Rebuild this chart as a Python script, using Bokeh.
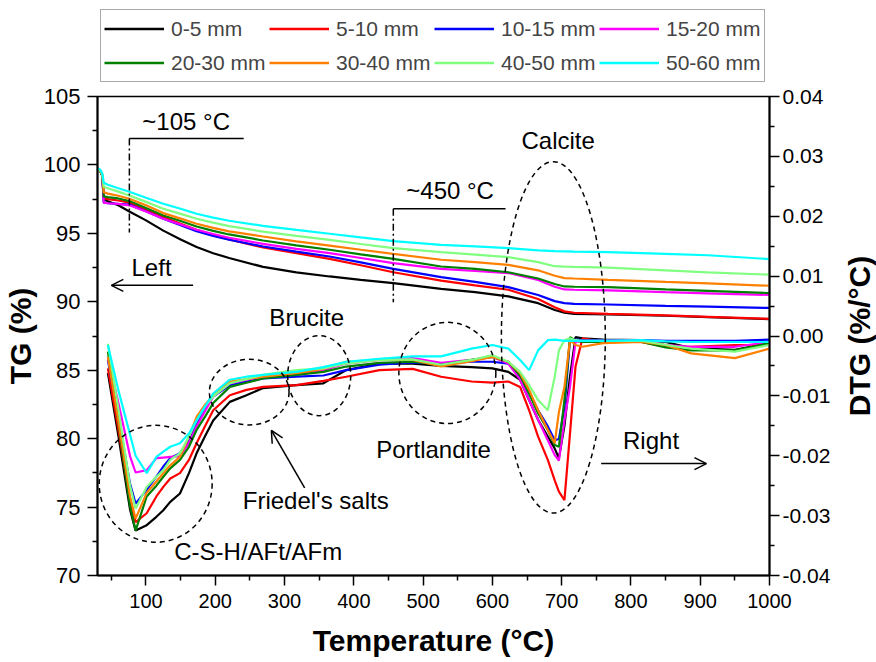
import math
from bokeh.plotting import figure
from bokeh.layouts import column, row
from bokeh.models import (Range1d, LinearAxis, FixedTicker, Legend, LegendItem, Arrow,
                          OpenHead, Label, PrintfTickFormatter)
from bokeh.core.properties import value
from bokeh.embed import file_html
from bokeh.resources import INLINE

FONT = "Liberation Sans"

# ---------------- data ----------------
labels = ["0-5 mm", "5-10 mm", "10-15 mm", "15-20 mm",
          "20-30 mm", "30-40 mm", "40-50 mm", "50-60 mm"]
colors = ["#000000", "#FF0000", "#0000FF", "#FF00FF",
          "#008000", "#FF8000", "#80FF80", "#00FFFF"]

# TG (%) vs temperature
t_tg = [30, 34, 37, 39, 45, 60, 76, 100, 125, 150, 173, 197, 220, 269, 317, 365,
        410, 457, 526, 575, 623, 666, 690, 704, 718, 767, 850, 911, 1000]
tg_0_5 = [99.75, 99.55, 99.2, 97.5, 97.35, 97.05, 96.6, 95.95, 95.2, 94.55, 94.0, 93.55, 93.2,
          92.55, 92.15, 91.85, 91.6, 91.37, 90.95, 90.7, 90.4, 89.9, 89.4, 89.2, 89.12, 89.08,
          88.98, 88.88, 88.73]
tg_5_10 = [99.75, 99.55, 99.2, 97.55, 97.5, 97.4, 97.25, 96.75, 96.2, 95.7, 95.26, 94.88, 94.55,
           93.97, 93.55, 93.14, 92.67, 92.16, 91.55, 91.2, 90.88, 90.2, 89.6, 89.3, 89.2, 89.12,
           89.0, 88.9, 88.75]
tg_10_15 = [99.75, 99.55, 99.2, 97.25, 97.2, 97.15, 97.1, 96.62, 96.07, 95.6, 95.16, 94.82, 94.53,
            94.04, 93.66, 93.31, 92.88, 92.4, 91.8, 91.45, 91.07, 90.5, 90.05, 89.9, 89.85, 89.8,
            89.7, 89.65, 89.55]
tg_15_20 = [99.75, 99.6, 99.25, 97.25, 97.2, 97.15, 97.05, 96.6, 96.07, 95.65, 95.26, 94.95, 94.68,
            94.23, 93.87, 93.55, 93.2, 92.82, 92.4, 92.25, 92.1, 91.6, 91.1, 90.9, 90.88, 90.83,
            90.7, 90.62, 90.5]
tg_20_30 = [99.75, 99.55, 99.2, 97.7, 97.65, 97.55, 97.36, 96.85, 96.3, 95.9, 95.5, 95.18, 94.92,
            94.48, 94.12, 93.8, 93.47, 93.14, 92.58, 92.4, 92.16, 91.7, 91.3, 91.12, 91.1, 91.07,
            90.9, 90.8, 90.64]
tg_30_40 = [99.75, 99.55, 99.25, 98.0, 97.9, 97.75, 97.53, 97.05, 96.48, 96.08, 95.7, 95.4, 95.15,
            94.77, 94.42, 94.11, 93.8, 93.5, 93.07, 92.9, 92.7, 92.3, 91.9, 91.73, 91.7, 91.6,
            91.45, 91.35, 91.17]
tg_40_50 = [99.75, 99.6, 99.3, 98.4, 98.3, 98.05, 97.77, 97.3, 96.8, 96.42, 96.07, 95.78, 95.53,
            95.13, 94.82, 94.53, 94.22, 93.92, 93.63, 93.45, 93.26, 92.9, 92.6, 92.57, 92.55, 92.49,
            92.3, 92.15, 91.98]
tg_50_60 = [99.75, 99.65, 99.35, 98.7, 98.55, 98.3, 98.04, 97.6, 97.16, 96.8, 96.43, 96.15, 95.92,
            95.55, 95.25, 94.97, 94.7, 94.43, 94.16, 94.05, 93.92, 93.75, 93.7, 93.68, 93.66, 93.63,
            93.5, 93.4, 93.12]

# DTG (%/°C) vs temperature
t_dtg = [45, 60, 77, 85, 101, 115, 125, 135, 149, 162, 173, 185, 197, 221, 245, 269, 317, 356,
         389, 437, 485, 526, 570, 600, 623, 640, 653, 666, 680, 690, 696, 704, 712, 720, 730,
         760, 815, 850, 887, 950, 1000]
dtg_0_5 = [-0.0062, -0.0166, -0.0290, -0.0325, -0.0316, -0.0302, -0.0291, -0.0277, -0.0263,
           -0.0229, -0.0196, -0.0168, -0.0141, -0.0110, -0.0099, -0.0087, -0.0082, -0.0079,
           -0.0057, -0.0046, -0.0046, -0.0050, -0.0052, -0.0054, -0.0060, -0.0073, -0.0107,
           -0.0140, -0.0168, -0.0188, -0.0204, -0.0150, -0.0068, -0.0002, -0.0004, -0.0006,
           -0.0007, -0.0010, -0.0020, -0.0023, -0.0012]
dtg_5_10 = [-0.0054, -0.0155, -0.0276, -0.0311, -0.0296, -0.0268, -0.0252, -0.0238, -0.0229,
            -0.0207, -0.0179, -0.0151, -0.0124, -0.0099, -0.0090, -0.0085, -0.0082, -0.0075,
            -0.0068, -0.0057, -0.0055, -0.0068, -0.0076, -0.0078, -0.0076, -0.0085, -0.0124,
            -0.0168, -0.0207, -0.0241, -0.0260, -0.0274, -0.0163, -0.0051, -0.0004, -0.0010,
            -0.0010, -0.0018, -0.0018, -0.0015, -0.0015]
dtg_10_15 = [-0.0040, -0.0134, -0.0247, -0.0280, -0.0257, -0.0235, -0.0218, -0.0204, -0.0196,
             -0.0174, -0.0146, -0.0121, -0.0101, -0.0082, -0.0076, -0.0071, -0.0068, -0.0066,
             -0.0057, -0.0048, -0.0044, -0.0046, -0.0043, -0.0043, -0.0046, -0.0068, -0.0096,
             -0.0124, -0.0151, -0.0174, -0.0172, -0.0120, -0.0006, -0.0006, -0.0007, -0.0007,
             -0.0007, -0.0008, -0.0008, -0.0008, -0.0006]
dtg_15_20 = [-0.0035, -0.0111, -0.0201, -0.0228, -0.0224, -0.0204, -0.0203, -0.0202, -0.0201,
             -0.0179, -0.0151, -0.0126, -0.0101, -0.0079, -0.0073, -0.0068, -0.0062, -0.0057,
             -0.0046, -0.0040, -0.0037, -0.0045, -0.0040, -0.0035, -0.0046, -0.0073, -0.0107,
             -0.0140, -0.0174, -0.0199, -0.0208, -0.0141, -0.0085, -0.0010, -0.0008, -0.0008,
             -0.0007, -0.0015, -0.0018, -0.0018, -0.0010]
dtg_20_30 = [-0.0026, -0.0143, -0.0284, -0.0325, -0.0268, -0.0250, -0.0235, -0.0221, -0.0207,
             -0.0185, -0.0157, -0.0135, -0.0112, -0.0085, -0.0078, -0.0071, -0.0065, -0.0060,
             -0.0051, -0.0045, -0.0043, -0.0048, -0.0040, -0.0035, -0.0043, -0.0066, -0.0096,
             -0.0129, -0.0157, -0.0182, -0.0185, -0.0107, -0.0002, -0.0008, -0.0010, -0.0010,
             -0.0010, -0.0019, -0.0024, -0.0024, -0.0012]
dtg_30_40 = [-0.0035, -0.0141, -0.0268, -0.0305, -0.0262, -0.0243, -0.0229, -0.0216, -0.0202,
             -0.0168, -0.0135, -0.0115, -0.0099, -0.0076, -0.0072, -0.0068, -0.0062, -0.0055,
             -0.0043, -0.0040, -0.0040, -0.0051, -0.0042, -0.0035, -0.0043, -0.0062, -0.0090,
             -0.0124, -0.0157, -0.0179, -0.0127, -0.0085, -0.0007, -0.0015, -0.0018, -0.0012,
             -0.0010, -0.0015, -0.0029, -0.0037, -0.0021]
dtg_40_50 = [-0.0013, -0.0121, -0.0250, -0.0288, -0.0252, -0.0235, -0.0224, -0.0207, -0.0196,
             -0.0168, -0.0141, -0.0118, -0.0101, -0.0079, -0.0072, -0.0065, -0.0057, -0.0054,
             -0.0046, -0.0040, -0.0039, -0.0048, -0.0040, -0.0032, -0.0043, -0.0060, -0.0082,
             -0.0107, -0.0124, -0.0068, -0.0024, -0.0007, -0.0004, -0.0007, -0.0008, -0.0008,
             -0.0008, -0.0015, -0.0021, -0.0026, -0.0015]
dtg_50_60 = [-0.0015, -0.0090, -0.0165, -0.0200, -0.0229, -0.0202, -0.0193, -0.0185, -0.0179,
             -0.0163, -0.0141, -0.0118, -0.0096, -0.0073, -0.0068, -0.0065, -0.0060, -0.0052,
             -0.0043, -0.0038, -0.0034, -0.0034, -0.0021, -0.0015, -0.0021, -0.0040, -0.0057,
             -0.0024, -0.0007, -0.0006, -0.0007, -0.0008, -0.0008, -0.0008, -0.0008, -0.0008,
             -0.0007, -0.0009, -0.0010, -0.0010, -0.0010]

tg_series = [tg_0_5, tg_5_10, tg_10_15, tg_15_20, tg_20_30, tg_30_40, tg_40_50, tg_50_60]
dtg_series = [dtg_0_5, dtg_5_10, dtg_10_15, dtg_15_20, dtg_20_30, dtg_30_40, dtg_40_50, dtg_50_60]

x_ticks = [100, 200, 300, 400, 500, 600, 700, 800, 900, 1000]
tg_ticks = [70, 75, 80, 85, 90, 95, 100, 105]
dtg_ticks = [-0.04, -0.03, -0.02, -0.01, 0.0, 0.01, 0.02, 0.03, 0.04]

# ---------------- layout sizes ----------------
W = 876
LEG_H = 84
MAIN_H = 578
SIDE_W = 36
MAIN_W = W - SIDE_W
B_LEFT, B_TOP, B_BOTTOM = 96, 12, 87
FRAME_RIGHT = 769

# ---------------- legend strip ----------------
leg = figure(width=W, height=LEG_H, output_backend="svg", toolbar_location=None,
             x_range=Range1d(0, 1), y_range=Range1d(0, 1),
             x_axis_location=None, y_axis_location=None,
             min_border_left=B_LEFT, min_border_right=W - FRAME_RIGHT,
             min_border_top=0, min_border_bottom=0)
leg.xgrid.visible = False
leg.ygrid.visible = False
leg.outline_line_color = None
leg_items = []
for lab, col in zip(labels, colors):
    r = leg.line([-5, -4], [-5, -4], line_color=col, line_width=2.5)
    leg_items.append(LegendItem(label=lab, renderers=[r]))
legend = Legend(items=leg_items, ncols=4, orientation="horizontal", location=(4, 2),
                label_text_font=FONT, label_text_font_size="21px",
                glyph_width=60, glyph_height=31, label_width=95, label_standoff=7,
                spacing=3, padding=3, margin=0,
                border_line_color="#555555", border_line_width=1.5,
                background_fill_color="white", background_fill_alpha=1.0)
leg.add_layout(legend, "center")

# ---------------- main figure ----------------
p = figure(width=MAIN_W, height=MAIN_H, output_backend="svg", toolbar_location=None,
           x_range=Range1d(30, 1000), y_range=Range1d(70, 105),
           min_border_left=B_LEFT, min_border_right=MAIN_W - FRAME_RIGHT,
           min_border_top=B_TOP, min_border_bottom=B_BOTTOM)
p.extra_y_ranges = {"dtg": Range1d(-0.04, 0.04)}
p.xgrid.visible = False
p.ygrid.visible = False
p.outline_line_color = "black"
p.outline_line_width = 1.5
p.background_fill_color = "white"
p.border_fill_color = "white"


def style_axis(ax, standoff, size):
    ax.axis_line_width = 2
    ax.axis_line_color = "black"
    ax.major_tick_out = 10
    ax.major_tick_in = 0
    ax.minor_tick_out = 5
    ax.minor_tick_in = 0
    ax.major_tick_line_width = 1.5
    ax.minor_tick_line_width = 1.5
    ax.major_label_text_font = FONT
    ax.major_label_text_font_size = size
    ax.major_label_text_color = "black"
    ax.major_label_standoff = standoff
    ax.axis_label_text_font = FONT
    ax.axis_label_text_font_size = "30px"
    ax.axis_label_text_font_style = "bold"
    ax.axis_label_text_color = "black"


xa = p.xaxis[0]
xa.ticker = FixedTicker(ticks=x_ticks, minor_ticks=[t - 50 for t in x_ticks])
xa.axis_label = "Temperature (°C)"
style_axis(xa, 8, "20px")
xa.axis_label_standoff = 13

ya = p.yaxis[0]
ya.ticker = FixedTicker(ticks=tg_ticks, minor_ticks=[t + 2.5 for t in tg_ticks[:-1]])
ya.axis_label = "TG (%)"
style_axis(ya, 7, "22px")
ya.axis_label_standoff = 4

ra = LinearAxis(y_range_name="dtg",
                ticker=FixedTicker(ticks=dtg_ticks,
                                   minor_ticks=[round(t + 0.005, 3) for t in dtg_ticks[:-1]]),
                formatter=PrintfTickFormatter(format="%.2f"))
style_axis(ra, 3, "21px")
p.add_layout(ra, "right")

# ---------------- curves ----------------
for col, tg, dtg in zip(colors, tg_series, dtg_series):
    p.line(t_tg, tg, line_color=col, line_width=2.2)
    p.line(t_dtg, dtg, line_color=col, line_width=2.2, y_range_name="dtg")

# ---------------- annotations ----------------
# dashed ellipses (centre T, centre TG, width in °C, height in TG %)
ell_x = [114, 249, 350, 535, 688]
ell_y = [76.7, 83.4, 84.6, 84.8, 87.4]
ell_w = [163, 115, 91, 140, 150]
ell_h = [8.55, 4.8, 5.85, 7.4, 25.7]
p.ellipse(x=ell_x, y=ell_y, width=ell_w, height=ell_h, fill_color=None,
          line_color="black", line_width=1.5, line_dash="5 4")

# brackets
p.line([76, 241], [101.93, 101.93], line_color="black", line_width=1.5)
p.line([76, 76], [101.93, 95.06], line_color="black", line_width=1.5, line_dash="7 3 2 3")
p.line([457, 619], [96.79, 96.79], line_color="black", line_width=1.5)
p.line([457, 457], [96.79, 89.97], line_color="black", line_width=1.5, line_dash="7 3 2 3")

# arrows
for xs, ys, xe, ye in [(168, 91.2, 50, 91.2), (757, 78.18, 909, 78.18), (329, 76.4, 281, 80.6)]:
    p.add_layout(Arrow(end=OpenHead(size=12, line_width=1.5, line_color="black"),
                       x_start=xs, y_start=ys, x_end=xe, y_end=ye,
                       line_width=1.5, line_color="black"))

texts = [("~105 °C", 158, 103.2), ("~450 °C", 539, 98.1), ("Calcite", 695, 101.8),
         ("Left", 108, 92.5), ("Right", 829, 79.9), ("Brucite", 332, 88.85),
         ("Portlandite", 515, 79.2), ("Friedel's salts", 345, 75.5),
         ("C-S-H/AFt/AFm", 262, 71.75)]
for txt, tx, ty in texts:
    p.add_layout(Label(x=tx, y=ty, text=txt, text_font=FONT, text_font_size="24px",
                       text_align="center", text_baseline="middle", text_color="black"))

# ---------------- right-hand axis title strip ----------------
side = figure(width=SIDE_W, height=MAIN_H, output_backend="svg", toolbar_location=None,
              x_range=Range1d(0, 1), y_range=Range1d(0, 1),
              x_axis_location=None, y_axis_location=None,
              min_border_left=0, min_border_right=0,
              min_border_top=B_TOP, min_border_bottom=B_BOTTOM)
side.xgrid.visible = False
side.ygrid.visible = False
side.outline_line_color = None
side.text(x=[0.53], y=[0.5], text=["DTG (%/°C)"], angle=math.pi / 2,
          text_font=value(FONT), text_font_size="30px", text_font_style="bold",
          text_align="center", text_baseline="middle", text_color="black")

layout = column(leg, row(p, side, spacing=0), spacing=0)
open("out.html", "w").write(file_html(layout, INLINE))
